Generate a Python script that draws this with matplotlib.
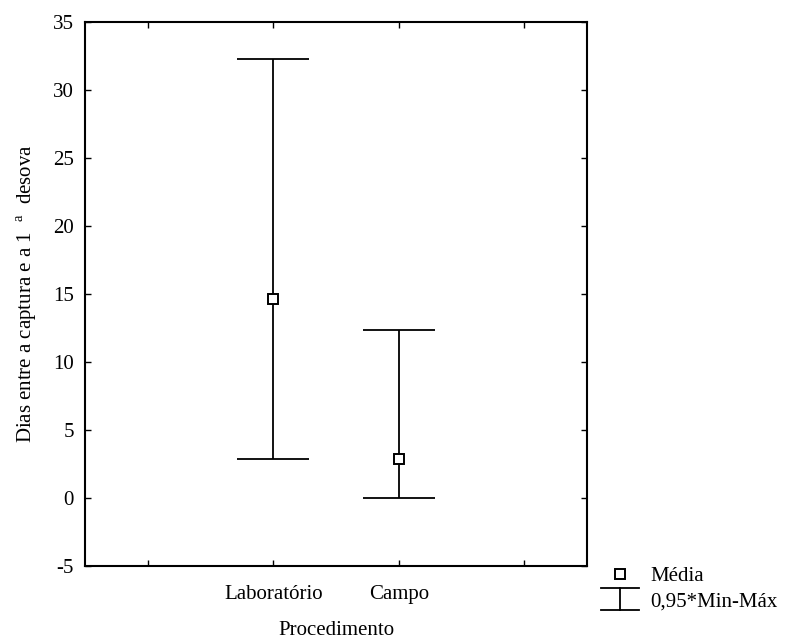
import matplotlib
matplotlib.use("Agg")
import matplotlib.pyplot as plt
from matplotlib.legend_handler import HandlerBase
from matplotlib.lines import Line2D

# Mean and 0.95*min-max range of days between capture and first spawning
procedures = ["Laboratório", "Campo"]
means = [14.6, 2.85]
lower = [2.85, 0.0]
upper = [32.3, 12.35]

plt.rcParams["font.family"] = ["Liberation Serif", "DejaVu Serif"]
plt.rcParams["mathtext.fontset"] = "custom"
plt.rcParams["mathtext.rm"] = "Liberation Serif"
plt.rcParams["axes.unicode_minus"] = False
FS = 15


class HandlerRange(HandlerBase):
    """Legend glyph: vertical stem with a cap at each end."""

    def create_artists(self, legend, orig_handle, xdescent, ydescent,
                       width, height, fontsize, trans):
        x0, x1 = -xdescent, -xdescent + width
        xc = (x0 + x1) / 2
        yc = height / 2 - ydescent
        h = 0.53 * fontsize
        parts = [Line2D([xc, xc], [yc - h, yc + h]),
                 Line2D([x0, x1], [yc - h, yc - h]),
                 Line2D([x0, x1], [yc + h, yc + h])]
        for p in parts:
            p.update_from(orig_handle)
            p.set_transform(trans)
        return parts


fig = plt.figure(figsize=(7.86, 6.4), dpi=100)
ax = fig.add_axes([0.1081, 0.1156, 0.6387, 0.85])

pos = [2, 3]
err_lo = [m - lo for m, lo in zip(means, lower)]
err_hi = [hi - m for m, hi in zip(means, upper)]
ax.errorbar(pos, means, yerr=[err_lo, err_hi], fmt="none", ecolor="black",
            elinewidth=1.3, capsize=26, capthick=1.3)
mk, = ax.plot(pos, means, linestyle="none", marker="s", markersize=7,
              markerfacecolor="white", markeredgecolor="black",
              markeredgewidth=1.4, zorder=5)

ax.set_xlim(0.5, 4.5)
ax.set_ylim(-5, 35)
ax.set_xticks([1, 2, 3, 4])
ax.set_xticklabels(["", procedures[0], procedures[1], ""])
ax.set_yticks(range(-5, 36, 5))
ax.tick_params(direction="in", length=4, width=1, labelsize=FS,
               top=True, right=True)
ax.tick_params(axis="x", pad=14)
ax.tick_params(axis="y", pad=8)
for sp in ax.spines.values():
    sp.set_linewidth(1.5)

ax.set_xlabel("Procedimento", fontsize=FS, labelpad=12)
ax.set_ylabel(r"Dias entre a captura e a 1  $^{\mathrm{a}}$  desova",
              fontsize=FS, labelpad=10)

range_handle = Line2D([], [], color="black", linewidth=1.3)
fig.legend([mk, range_handle], ["Média", "0,95*Min-Máx"],
           loc="upper left", bbox_to_anchor=(0.7646, 0.1144),
           frameon=False, fontsize=FS, handlelength=1.83, handletextpad=0.53,
           borderpad=0, borderaxespad=0, labelspacing=0.26,
           handler_map={range_handle: HandlerRange()})

fig.savefig("out.png", dpi=100)
